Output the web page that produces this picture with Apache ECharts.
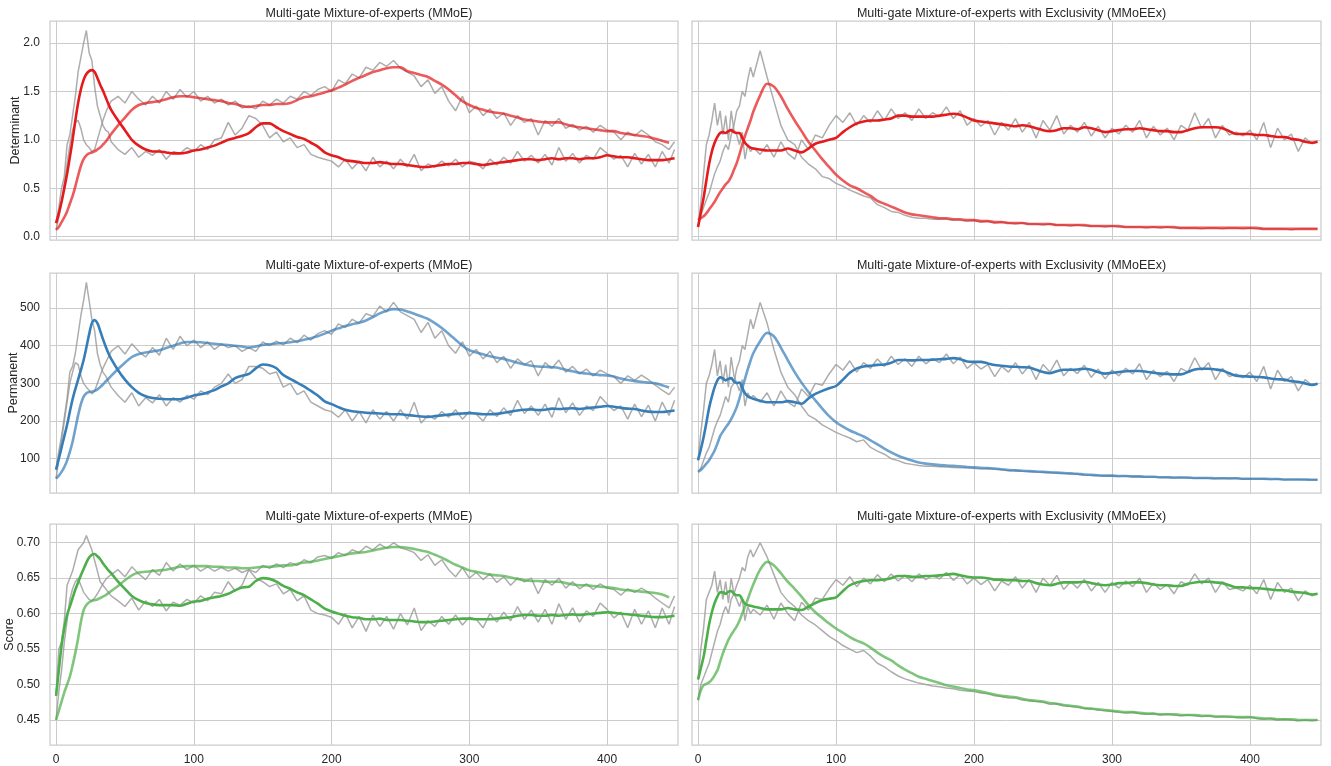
<!DOCTYPE html>
<html>
<head>
<meta charset="utf-8">
<script src="https://cdn.jsdelivr.net/npm/echarts@6/dist/echarts.min.js"></script>
<style>
html,body{margin:0;padding:0;background:#fff;}
#chart{width:1331px;height:766px;}
</style>
</head>
<body>
<div id="chart"></div>
<script>
// x positions (training step)
const X = [0,2,4,6,8,10,12,14,16,18,20,22,24,26,28,30,32,34,36,38,40,
45,50,55,60,65,70,75,80,85,90,95,100,105,110,115,120,125,130,135,140,
145,150,155,160,165,170,175,180,185,190,195,200,205,210,215,220,225,230,235,240,
245,250,255,260,265,270,275,280,285,290,295,300,305,310,315,320,325,330,335,340,
345,350,355,360,365,370,375,380,385,390,395,400,405,410,415,420,425,430,435,440,445,449];

const titles = ["Multi-gate Mixture-of-experts (MMoE)", "Multi-gate Mixture-of-experts with Exclusivity (MMoEEx)"];
const yNames = ["Determinant", "Permanent", "Score"];
const xTicks = [0,100,200,300,400];
const yTicksDet = [0,0.5,1.0,1.5,2.0];
const yTicksPerm = [100,200,300,400,500];
const yTicksScore = [0.45,0.50,0.55,0.60,0.65,0.70];

// ---------- Determinant, MMoE ----------
const detMMoE_A_raw = [0.14,0.30,0.50,0.62,0.95,1.05,1.25,1.45,1.70,1.85,2.00,2.13,1.90,1.82,1.55,1.35,1.25,1.15,1.10,1.08,0.98,
0.90,0.85,0.92,0.82,0.88,0.84,0.90,0.80,0.88,0.86,
0.92,0.88,0.95,0.90,1.00,1.02,1.18,1.05,1.12,1.25,
1.22,1.15,1.02,1.08,0.98,1.02,0.92,0.95,0.85,0.82,
0.80,0.78,0.72,0.80,0.70,0.78,0.68,0.82,0.72,0.78,
0.70,0.80,0.72,0.85,0.68,0.75,0.72,0.78,0.73,0.80,
0.72,0.78,0.76,0.70,0.80,0.74,0.82,0.76,0.88,0.78,
0.84,0.76,0.85,0.74,0.92,0.78,0.86,0.76,0.84,0.80,
0.92,0.86,0.80,0.84,0.72,0.86,0.75,0.85,0.72,0.88,
0.76,0.90];
const detMMoE_A = [0.14,0.24,0.36,0.50,0.65,0.82,1.00,1.20,1.38,1.52,1.62,1.68,1.71,1.72,1.70,1.64,1.57,1.51,1.44,1.37,1.31,
1.20,1.10,1.00,0.94,0.90,0.88,0.88,0.87,0.86,0.86,
0.87,0.89,0.90,0.92,0.94,0.97,1.00,1.02,1.04,1.07,
1.13,1.17,1.17,1.13,1.09,1.06,1.03,1.01,0.97,0.93,
0.87,0.84,0.82,0.79,0.78,0.77,0.76,0.76,0.77,0.76,
0.75,0.75,0.74,0.73,0.72,0.72,0.73,0.74,0.75,0.75,
0.76,0.76,0.75,0.74,0.75,0.76,0.77,0.78,0.79,0.80,
0.80,0.79,0.80,0.81,0.80,0.81,0.81,0.80,0.81,0.81,
0.82,0.84,0.83,0.82,0.82,0.81,0.80,0.79,0.79,0.79,
0.80,0.81];
const detMMoE_B_raw = [0.07,0.20,0.35,0.55,0.75,0.95,1.10,1.18,1.20,1.12,1.00,0.95,0.92,0.88,0.90,1.00,1.10,1.20,1.28,1.35,1.40,
1.45,1.38,1.50,1.42,1.36,1.45,1.38,1.50,1.42,1.52,
1.44,1.50,1.40,1.45,1.38,1.42,1.36,1.40,1.33,1.35,
1.32,1.40,1.36,1.42,1.38,1.45,1.42,1.50,1.46,1.52,
1.55,1.50,1.62,1.58,1.68,1.64,1.75,1.72,1.80,1.76,
1.82,1.74,1.70,1.66,1.55,1.62,1.48,1.55,1.40,1.30,
1.45,1.28,1.35,1.25,1.32,1.22,1.28,1.15,1.25,1.18,
1.22,1.05,1.20,1.14,1.22,1.12,1.16,1.10,1.14,1.08,
1.15,1.10,1.08,1.00,1.08,1.04,1.10,1.05,0.98,0.95,
0.90,0.98];
const detMMoE_B = [0.07,0.10,0.15,0.20,0.26,0.34,0.42,0.52,0.63,0.73,0.80,0.84,0.86,0.87,0.88,0.90,0.92,0.95,0.98,1.02,1.06,
1.15,1.23,1.31,1.36,1.38,1.39,1.40,1.42,1.44,1.45,
1.45,1.44,1.43,1.42,1.41,1.40,1.38,1.37,1.35,1.34,
1.35,1.36,1.36,1.37,1.37,1.38,1.41,1.44,1.45,1.47,
1.49,1.51,1.54,1.57,1.61,1.64,1.67,1.70,1.72,1.74,
1.75,1.75,1.71,1.69,1.67,1.65,1.61,1.57,1.52,1.46,
1.40,1.36,1.33,1.31,1.29,1.28,1.27,1.25,1.23,1.21,
1.20,1.19,1.18,1.18,1.18,1.16,1.14,1.13,1.12,1.11,
1.10,1.09,1.09,1.07,1.06,1.05,1.04,1.03,1.01,0.99,
0.97,null];

// ---------- Determinant, MMoEEx ----------
const detEx_A_raw = [0.10,0.35,0.65,0.95,1.05,1.20,1.38,1.15,1.30,1.05,1.25,1.00,1.30,1.10,1.05,0.95,1.08,0.80,0.95,0.88,0.92,
0.85,0.95,0.82,0.98,0.86,0.80,1.00,0.90,1.05,1.02,
1.15,1.25,1.18,1.28,1.15,1.25,1.18,1.30,1.20,1.32,
1.22,1.28,1.20,1.32,1.22,1.28,1.24,1.34,1.22,1.30,
1.15,1.22,1.14,1.20,1.05,1.18,1.10,1.22,1.08,1.18,
1.02,1.20,1.10,1.25,1.06,1.15,1.08,1.18,1.04,1.14,
1.02,1.12,1.06,1.15,1.08,1.20,1.02,1.14,1.05,1.12,
1.00,1.15,1.10,1.28,1.12,1.22,1.02,1.15,1.05,1.08,
1.04,1.10,1.00,1.18,0.92,1.12,1.00,1.06,0.88,1.02,
0.96,0.98];
const detEx_A = [0.10,0.25,0.40,0.58,0.75,0.88,0.97,1.03,1.07,1.08,1.07,1.09,1.10,1.08,1.07,1.07,1.02,0.97,0.94,0.92,0.91,
0.90,0.89,0.89,0.89,0.91,0.89,0.87,0.91,0.96,0.98,
1.00,1.02,1.08,1.13,1.17,1.19,1.20,1.20,1.21,1.22,
1.25,1.25,1.24,1.24,1.24,1.24,1.25,1.26,1.27,1.26,
1.23,1.20,1.19,1.18,1.17,1.16,1.15,1.14,1.15,1.14,
1.12,1.10,1.09,1.10,1.12,1.12,1.11,1.13,1.12,1.10,
1.08,1.09,1.10,1.11,1.11,1.12,1.11,1.10,1.09,1.09,
1.08,1.08,1.10,1.12,1.13,1.13,1.13,1.12,1.09,1.06,
1.06,1.06,1.05,1.05,1.04,1.03,1.03,1.01,1.00,0.98,
0.97,0.98];
const detEx_B_raw = [0.17,0.22,0.30,0.38,0.45,0.55,0.65,0.72,0.78,0.88,0.95,0.90,1.05,1.15,1.30,1.35,1.50,1.45,1.62,1.75,1.65,
1.92,1.65,1.40,1.15,1.00,0.95,0.82,0.75,0.70,0.62,
0.60,0.55,0.52,0.48,0.45,0.42,0.40,0.33,0.30,0.26,
0.25,0.22,0.20,0.19,0.19,0.18,0.18,0.18,0.17,0.17,
0.16,0.17,0.15,0.16,0.14,0.15,0.14,0.13,0.14,0.13,
0.13,0.12,0.13,0.12,0.12,0.11,0.12,0.11,0.11,0.11,
0.10,0.11,0.10,0.10,0.10,0.10,0.09,0.10,0.09,0.10,
0.09,0.09,0.09,0.09,0.08,0.09,0.09,0.08,0.09,0.09,
0.08,0.09,0.08,0.08,0.08,0.08,0.08,0.07,0.08,0.08,
0.08,0.08];
const detEx_B = [0.17,0.19,0.21,0.24,0.28,0.32,0.36,0.41,0.46,0.50,0.54,0.57,0.62,0.69,0.76,0.85,0.95,1.04,1.12,1.20,1.29,
1.46,1.58,1.55,1.45,1.32,1.20,1.09,0.98,0.89,0.80,
0.72,0.64,0.58,0.53,0.50,0.46,0.42,0.37,0.34,0.31,
0.28,0.25,0.23,0.22,0.21,0.20,0.19,0.19,0.18,0.18,
0.17,0.17,0.16,0.16,0.15,0.15,0.14,0.14,0.14,0.13,
0.13,0.13,0.13,0.12,0.12,0.12,0.12,0.12,0.11,0.11,
0.11,0.11,0.11,0.10,0.10,0.10,0.10,0.10,0.10,0.10,
0.10,0.09,0.09,0.09,0.09,0.09,0.09,0.09,0.09,0.09,
0.09,0.09,0.09,0.08,0.08,0.08,0.08,0.08,0.08,0.08,
0.08,0.08];

// ---------- Permanent, MMoE ----------
const permMMoE_A_raw = [71,120,160,210,260,330,345,380,430,480,520,568,520,470,440,380,350,330,320,305,290,
268,250,275,240,262,248,270,240,262,250,
268,258,280,270,290,300,325,300,310,345,
345,340,325,330,290,300,270,280,250,240,
230,225,210,230,200,225,195,230,205,225,
200,230,205,250,195,215,205,225,210,230,
205,225,218,200,230,212,235,215,255,220,
240,215,245,210,262,222,248,215,240,228,
265,245,228,240,205,245,212,242,200,250,
215,255];
const permMMoE_A = [71,100,130,160,190,225,258,285,310,335,362,395,430,460,468,460,440,418,398,380,365,
335,310,290,275,266,261,259,258,258,258,
262,268,271,276,282,292,300,314,320,325,
340,350,348,340,322,312,302,292,280,268,
252,245,237,230,226,224,222,221,220,219,
218,218,216,214,212,211,213,215,217,219,
220,221,220,218,218,219,222,225,228,230,
231,229,230,233,232,233,234,232,234,236,
238,240,238,235,233,232,228,225,224,224,
226,228];
const permMMoE_B_raw = [47,100,150,200,250,300,330,355,350,320,300,290,282,272,280,300,320,340,355,370,385,
400,378,405,385,370,395,375,420,390,425,
400,415,395,410,390,405,395,400,385,395,
385,410,400,412,402,420,408,428,415,432,
440,430,458,448,470,460,485,478,505,490,
515,490,480,470,435,462,420,440,400,380,
410,372,390,365,385,355,372,340,365,350,
360,320,355,340,362,330,345,325,338,320,
335,325,318,300,320,308,322,310,295,282,
270,290];
const permMMoE_B = [47,55,65,78,95,118,145,180,215,245,265,274,277,278,280,284,290,297,305,312,320,
338,355,370,378,382,385,388,394,400,406,
410,410,409,407,405,403,402,400,398,395,
398,402,404,406,407,409,412,416,420,425,
432,440,446,452,457,461,467,476,486,493,
497,496,491,485,478,471,460,447,432,416,
400,388,382,377,372,368,365,360,355,350,
347,345,344,343,341,336,332,328,326,324,
322,321,318,313,309,306,304,302,300,295,
289,null];

// ---------- Permanent, MMoEEx ----------
const permEx_A_raw = [96,170,230,300,320,350,390,320,360,300,350,290,370,320,300,280,310,240,275,260,268,
250,275,240,280,250,238,285,265,300,295,
325,350,335,360,330,355,340,365,345,372,
350,365,345,372,352,365,355,378,352,370,
340,355,338,350,318,345,330,355,325,348,
310,350,330,362,320,340,326,348,316,338,
312,335,320,340,325,352,310,335,318,332,
305,340,330,368,335,355,310,340,318,325,
315,330,305,345,285,335,305,318,280,310,
295,300];
const permEx_A = [96,125,157,195,235,265,290,308,316,313,308,312,314,305,301,302,288,274,266,262,259,
254,250,250,250,253,250,246,260,272,280,
287,293,310,328,340,345,347,349,350,355,
362,362,361,362,362,363,364,365,367,364,
358,357,357,353,349,347,345,344,343,342,
336,330,327,332,336,336,337,339,336,330,
326,328,330,332,333,333,331,328,326,325,
324,324,330,337,339,339,337,334,327,320,
319,318,317,316,313,311,310,306,304,300,
296,299];
const permEx_B_raw = [65,75,95,115,130,155,180,200,215,240,265,250,290,300,340,360,400,390,430,470,445,
515,460,390,330,290,270,240,215,205,190,
180,170,162,155,145,150,130,120,112,100,
95,88,85,82,80,80,79,78,77,76,
76,75,73,74,72,71,68,69,67,66,
65,64,63,62,61,60,59,57,56,55,
54,55,53,54,52,52,51,52,50,51,
49,50,49,48,49,48,47,48,47,48,
46,47,46,47,45,46,44,45,45,44,
44,44];
const permEx_B = [65,70,78,87,96,108,122,140,160,172,183,193,205,220,237,260,286,312,337,360,380,
412,434,425,395,362,330,302,277,255,233,
213,197,185,175,167,159,149,138,127,117,
108,101,95,90,87,85,83,82,81,80,
78,77,76,75,74,72,70,69,68,67,
66,65,64,63,62,61,60,58,57,56,
55,55,54,54,53,53,52,52,51,51,
50,50,50,49,49,49,48,48,48,48,
47,47,47,47,46,46,45,45,45,45,
44,44];

// ---------- Score, MMoE ----------
const scoreMMoE_A_raw = [0.484,0.55,0.56,0.59,0.64,0.65,0.66,0.675,0.69,0.695,0.70,0.710,0.700,0.690,0.675,0.660,0.645,0.640,0.635,0.630,0.625,
0.618,0.610,0.622,0.605,0.618,0.610,0.620,0.604,0.616,0.612,
0.620,0.615,0.625,0.618,0.630,0.628,0.645,0.632,0.640,0.662,
0.650,0.645,0.638,0.642,0.628,0.634,0.618,0.625,0.605,0.600,
0.598,0.595,0.585,0.600,0.580,0.596,0.575,0.598,0.582,0.596,
0.578,0.600,0.584,0.608,0.576,0.590,0.582,0.596,0.585,0.598,
0.584,0.595,0.592,0.580,0.600,0.588,0.602,0.590,0.610,0.592,
0.605,0.588,0.606,0.585,0.614,0.592,0.608,0.588,0.604,0.596,
0.615,0.606,0.594,0.602,0.580,0.606,0.585,0.604,0.580,0.608,
0.585,0.610];
const scoreMMoE_A = [0.484,0.520,0.555,0.580,0.598,0.610,0.622,0.634,0.644,0.654,0.663,0.672,0.679,0.683,0.684,0.681,0.677,0.671,0.666,0.661,0.657,
0.645,0.635,0.625,0.619,0.615,0.613,0.612,0.612,0.612,0.611,
0.614,0.617,0.618,0.621,0.623,0.625,0.628,0.633,0.637,0.638,
0.646,0.650,0.649,0.645,0.639,0.635,0.630,0.626,0.620,0.614,
0.607,0.603,0.600,0.597,0.595,0.594,0.592,0.592,0.593,0.591,
0.591,0.591,0.590,0.589,0.588,0.588,0.589,0.590,0.591,0.592,
0.593,0.593,0.592,0.592,0.592,0.593,0.594,0.595,0.597,0.598,
0.598,0.597,0.597,0.598,0.597,0.598,0.599,0.598,0.599,0.600,
0.601,0.602,0.601,0.600,0.599,0.598,0.597,0.596,0.595,0.595,
0.596,0.597];
const scoreMMoE_B_raw = [0.450,0.49,0.52,0.56,0.59,0.62,0.635,0.645,0.650,0.640,0.630,0.625,0.620,0.618,0.622,0.628,0.635,0.642,0.648,0.652,0.655,
0.662,0.652,0.666,0.656,0.648,0.662,0.654,0.672,0.660,0.670,
0.662,0.668,0.660,0.666,0.660,0.665,0.660,0.664,0.658,0.662,
0.658,0.668,0.664,0.670,0.665,0.672,0.668,0.676,0.672,0.680,
0.682,0.678,0.686,0.682,0.690,0.686,0.695,0.690,0.698,0.692,
0.700,0.693,0.690,0.686,0.675,0.683,0.668,0.676,0.662,0.652,
0.665,0.650,0.658,0.648,0.656,0.644,0.652,0.640,0.650,0.645,
0.650,0.628,0.648,0.640,0.650,0.636,0.645,0.635,0.642,0.634,
0.642,0.636,0.634,0.626,0.635,0.630,0.636,0.630,0.622,0.615,
0.608,0.625];
const scoreMMoE_B = [0.450,0.463,0.476,0.489,0.500,0.511,0.527,0.545,0.565,0.588,0.605,0.612,0.616,0.618,0.619,0.620,0.622,0.624,0.626,0.629,0.632,
0.639,0.647,0.654,0.658,0.659,0.660,0.661,0.662,0.664,0.666,
0.667,0.667,0.667,0.667,0.666,0.666,0.665,0.665,0.664,0.664,
0.665,0.666,0.666,0.667,0.668,0.668,0.670,0.672,0.673,0.675,
0.677,0.679,0.681,0.683,0.685,0.686,0.687,0.689,0.691,0.693,
0.694,0.694,0.693,0.691,0.689,0.687,0.683,0.679,0.674,0.669,
0.665,0.661,0.659,0.657,0.655,0.654,0.653,0.651,0.649,0.647,
0.646,0.646,0.645,0.645,0.645,0.643,0.641,0.640,0.640,0.639,
0.638,0.637,0.636,0.634,0.633,0.632,0.631,0.630,0.629,0.627,
0.623,null];

// ---------- Score, MMoEEx ----------
const scoreEx_A_raw = [0.507,0.55,0.58,0.62,0.63,0.64,0.660,0.630,0.648,0.620,0.645,0.615,0.650,0.628,0.620,0.610,0.622,0.590,0.610,0.600,0.606,
0.598,0.612,0.592,0.615,0.600,0.590,0.616,0.605,0.622,0.620,
0.635,0.648,0.640,0.652,0.638,0.650,0.642,0.655,0.645,0.656,
0.646,0.654,0.645,0.656,0.648,0.654,0.649,0.658,0.647,0.655,
0.642,0.650,0.641,0.648,0.632,0.646,0.640,0.652,0.636,0.648,
0.630,0.650,0.640,0.654,0.634,0.645,0.636,0.648,0.632,0.644,
0.630,0.644,0.636,0.646,0.638,0.650,0.630,0.643,0.634,0.641,
0.628,0.645,0.640,0.656,0.642,0.650,0.630,0.645,0.634,0.636,
0.632,0.640,0.628,0.648,0.620,0.644,0.630,0.636,0.618,0.632,
0.625,0.628];
const scoreEx_A = [0.507,0.523,0.539,0.562,0.585,0.602,0.615,0.624,0.630,0.630,0.628,0.631,0.632,0.628,0.626,0.626,0.620,0.614,0.612,0.611,0.610,
0.608,0.606,0.606,0.606,0.608,0.606,0.605,0.610,0.615,0.619,
0.621,0.623,0.632,0.640,0.644,0.646,0.647,0.647,0.648,0.650,
0.653,0.653,0.652,0.652,0.653,0.653,0.654,0.655,0.656,0.654,
0.652,0.651,0.651,0.650,0.648,0.648,0.647,0.647,0.646,0.646,
0.643,0.641,0.640,0.642,0.644,0.644,0.644,0.645,0.643,0.641,
0.640,0.641,0.643,0.643,0.644,0.644,0.643,0.641,0.640,0.640,
0.639,0.639,0.642,0.644,0.645,0.645,0.644,0.643,0.640,0.637,
0.637,0.636,0.636,0.635,0.634,0.633,0.633,0.631,0.630,0.629,
0.627,0.628];
const scoreEx_B_raw = [0.478,0.50,0.51,0.52,0.53,0.545,0.56,0.575,0.585,0.600,0.610,0.600,0.620,0.628,0.640,0.650,0.665,0.660,0.680,0.690,0.680,
0.700,0.680,0.655,0.630,0.618,0.610,0.598,0.590,0.584,0.576,
0.568,0.562,0.555,0.550,0.545,0.548,0.540,0.530,0.525,0.518,
0.512,0.508,0.505,0.502,0.500,0.498,0.497,0.495,0.494,0.492,
0.491,0.490,0.488,0.487,0.484,0.483,0.481,0.481,0.478,0.477,
0.476,0.475,0.472,0.473,0.470,0.469,0.468,0.466,0.466,0.464,
0.463,0.462,0.461,0.460,0.461,0.459,0.458,0.459,0.457,0.458,
0.457,0.456,0.457,0.456,0.455,0.456,0.454,0.455,0.454,0.454,
0.453,0.454,0.452,0.451,0.452,0.450,0.451,0.450,0.449,0.450,
0.449,0.450];
const scoreEx_B = [0.478,0.492,0.499,0.501,0.503,0.507,0.513,0.520,0.532,0.544,0.554,0.563,0.570,0.576,0.582,0.590,0.600,0.610,0.620,0.631,0.641,
0.662,0.673,0.668,0.657,0.645,0.635,0.624,0.612,0.602,0.594,
0.586,0.579,0.573,0.567,0.562,0.558,0.552,0.545,0.539,0.534,
0.527,0.521,0.516,0.511,0.508,0.505,0.502,0.499,0.497,0.495,
0.493,0.492,0.490,0.488,0.486,0.484,0.483,0.482,0.480,0.478,
0.477,0.476,0.474,0.473,0.471,0.470,0.469,0.467,0.466,0.465,
0.464,0.463,0.462,0.461,0.461,0.460,0.459,0.459,0.458,0.458,
0.458,0.457,0.457,0.457,0.456,0.456,0.455,0.455,0.455,0.454,
0.454,0.454,0.453,0.452,0.452,0.451,0.451,0.451,0.450,0.450,
0.450,0.450];

// ---------- layout & rendering ----------
const panels = [
  {raw:[detMMoE_A_raw, detMMoE_B_raw], sm:[detMMoE_A, detMMoE_B], color:'#e41a1c'},
  {raw:[detEx_A_raw, detEx_B_raw], sm:[detEx_A, detEx_B], color:'#e41a1c'},
  {raw:[permMMoE_A_raw, permMMoE_B_raw], sm:[permMMoE_A, permMMoE_B], color:'#377eb8'},
  {raw:[permEx_A_raw, permEx_B_raw], sm:[permEx_A, permEx_B], color:'#377eb8'},
  {raw:[scoreMMoE_A_raw, scoreMMoE_B_raw], sm:[scoreMMoE_A, scoreMMoE_B], color:'#4daf4a'},
  {raw:[scoreEx_A_raw, scoreEx_B_raw], sm:[scoreEx_A, scoreEx_B], color:'#4daf4a'}
];
const rowsY = [
  {top:21, height:219, min:-0.035, max:2.228, ticks:yTicksDet, fmt:v=>v.toFixed(1), gap:28},
  {top:273, height:220, min:9, max:593, ticks:yTicksPerm, fmt:v=>String(v), gap:30},
  {top:524, height:221, min:0.4147, max:0.7264, ticks:yTicksScore, fmt:v=>v.toFixed(2), gap:34}
];
const cols = [{left:50, width:628}, {left:692, width:629}];
const FONT = '"Liberation Sans", Arial, sans-serif';
const TXT = '#262626';

const grids=[], xAxes=[], yAxes=[], series=[], titleArr=[];
for (let p=0;p<6;p++){
  const r = Math.floor(p/2), c = p%2;
  const R = rowsY[r], C = cols[c];
  grids.push({left:C.left, top:R.top, width:C.width, height:R.height, show:true,
    borderColor:'#cccccc', borderWidth:1.25, backgroundColor:'#ffffff', containLabel:false});
  xAxes.push({type:'value', gridIndex:p, min:-4.4, max:451.5,
    axisLine:{show:false}, axisTick:{show:false, customValues:xTicks},
    splitLine:{show:true, lineStyle:{color:'#cccccc', width:1}},
    axisLabel:{show:r===2, customValues:xTicks, color:TXT, fontSize:12, fontFamily:FONT, margin:9}
  });
  yAxes.push({type:'value', gridIndex:p, min:R.min, max:R.max,
    axisLine:{show:false}, axisTick:{show:false, customValues:R.ticks},
    splitLine:{show:true, lineStyle:{color:'#cccccc', width:1}},
    axisLabel:{show:c===0, customValues:R.ticks, formatter:R.fmt, color:TXT, fontSize:12, fontFamily:FONT, margin:10},
    name: c===0 ? yNames[r] : '', nameLocation:'middle', nameGap:R.gap, nameRotate:90,
    nameMoveOverlap:false,
    nameTextStyle:{color:TXT, fontSize:12.5, fontFamily:FONT}
  });
  titleArr.push({text:titles[c], left:C.left + C.width/2, top:R.top-19, textAlign:'center',
    textStyle:{color:TXT, fontSize:12.5, fontWeight:'normal', fontFamily:FONT}});
  const P = panels[p];
  const pts = arr => X.map((x,i)=>[x, arr[i]]);
  P.raw.forEach(arr=>series.push({type:'line', xAxisIndex:p, yAxisIndex:p, data:pts(arr),
    showSymbol:false, symbol:'none', lineStyle:{color:'#999999', width:1.5, opacity:0.8}, z:2, silent:true}));
  series.push({type:'line', xAxisIndex:p, yAxisIndex:p, data:pts(P.sm[0]), smooth:0.3,
    showSymbol:false, symbol:'none', lineStyle:{color:P.color, width:2.6}, z:3, silent:true});
  series.push({type:'line', xAxisIndex:p, yAxisIndex:p, data:pts(P.sm[1]), smooth:0.3,
    showSymbol:false, symbol:'none', lineStyle:{color:P.color, width:2.6, opacity:0.72}, z:4, silent:true});
}

const chart = echarts.init(document.getElementById('chart'), null, {renderer:'canvas'});
chart.setOption({
  backgroundColor:'#ffffff',
  animation:false,
  title:titleArr,
  grid:grids, xAxis:xAxes, yAxis:yAxes, series:series
});
</script>
</body>
</html>
